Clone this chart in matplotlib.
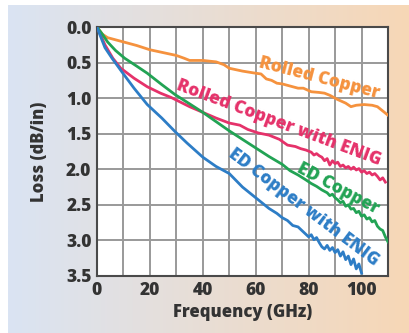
import numpy as np
import matplotlib
matplotlib.use("Agg")
import matplotlib.pyplot as plt

plt.rcParams["font.family"] = ["Open Sans", "DejaVu Sans"]
plt.rcParams["font.weight"] = "bold"

# Rolled Copper
rc_f = [0, 2, 4, 7, 10, 15, 20, 25, 30, 33, 35, 40, 45, 48, 50, 55, 60, 62, 64, 66, 68, 70,
        73, 76, 78, 81, 84, 86, 88, 91, 94, 96, 98, 101, 104, 106, 108, 110]
rc_l = [0, 0.10, 0.15, 0.18, 0.21, 0.26, 0.32, 0.36, 0.40, 0.44, 0.47, 0.47, 0.49, 0.53, 0.58,
        0.62, 0.65, 0.66, 0.73, 0.75, 0.79, 0.80, 0.83, 0.86, 0.86, 0.91, 0.92, 0.93, 0.96,
        1.02, 1.07, 1.12, 1.10, 1.09, 1.10, 1.12, 1.18, 1.24]

# Rolled Copper with ENIG
rce_f = [0, 1, 3, 6, 9, 14, 19, 24, 28, 35, 40, 45, 50, 54, 57, 61, 65, 69, 72, 75, 77, 79,
         81, 82, 83, 84, 85, 86, 87, 88, 89, 90, 91, 92, 93, 94, 95, 96, 97, 98, 99, 100,
         101, 102, 103, 104, 105, 106, 107, 108, 109]
rce_l = [0, 0.08, 0.25, 0.44, 0.58, 0.72, 0.84, 0.93, 0.99, 1.12, 1.20, 1.28, 1.35, 1.38,
         1.44, 1.49, 1.52, 1.58, 1.66, 1.68, 1.71, 1.73, 1.76, 1.80, 1.78, 1.81, 1.83, 1.88,
         1.85, 1.94, 1.88, 1.92, 1.90, 1.96, 1.94, 1.98, 1.96, 2.00, 1.97, 2.01, 1.99, 2.04,
         2.02, 2.06, 2.04, 2.08, 2.06, 2.10, 2.15, 2.12, 2.18]

# ED Copper
ed_f = [0, 2, 4, 7, 10.5, 15, 19, 24.5, 29.5, 35, 40, 45, 50, 55, 60, 65, 70, 73, 76, 79,
        81, 83, 85, 87, 88, 89, 90, 91, 92, 93, 94, 95, 96, 97, 98, 99, 100, 101, 102, 103,
        104, 105, 106, 107, 108, 109, 110]
ed_l = [0, 0.10, 0.21, 0.33, 0.44, 0.55, 0.65, 0.81, 0.95, 1.08, 1.20, 1.33, 1.46, 1.58,
        1.70, 1.82, 1.93, 2.02, 2.08, 2.15, 2.20, 2.24, 2.29, 2.33, 2.37, 2.35, 2.40, 2.43,
        2.47, 2.45, 2.52, 2.50, 2.56, 2.55, 2.61, 2.59, 2.66, 2.64, 2.70, 2.68, 2.74, 2.72,
        2.80, 2.84, 2.86, 2.95, 3.02]

# ED Copper with ENIG
ede_f = [0, 1, 3, 5.7, 9.4, 14, 19, 24.5, 29.5, 34, 40, 45, 50, 55, 60, 65, 68, 70, 72, 74,
         76, 78, 80, 81, 82, 83, 84, 85, 86, 87, 88, 89, 90, 91, 92, 93, 94, 95, 96, 97, 98,
         99, 100]
ede_l = [0, 0.10, 0.29, 0.44, 0.63, 0.86, 1.09, 1.28, 1.47, 1.63, 1.83, 1.96, 2.06, 2.25,
         2.40, 2.55, 2.62, 2.68, 2.72, 2.79, 2.81, 2.88, 2.95, 2.92, 2.99, 2.96, 3.03, 3.09,
         3.12, 3.07, 3.14, 3.10, 3.17, 3.13, 3.22, 3.16, 3.27, 3.22, 3.34, 3.26, 3.40, 3.33,
         3.46]

series = [
    (rc_f, rc_l, "#f5923e"),
    (rce_f, rce_l, "#e5326a"),
    (ed_f, ed_l, "#22a354"),
    (ede_f, ede_l, "#2d7dc6"),
]

# label text, x, y, rotation, colour
labels = [
    ("Rolled Copper", 84, 0.72, -14.5, "#f5923e"),
    ("Rolled Copper with ENIG", 68.7, 1.35, -20.5, "#e5326a"),
    ("ED Copper", 91, 2.28, -28, "#22a354"),
    ("ED Copper with ENIG", 78, 2.53, -37, "#2d7dc6"),
]

W, H = 409, 333
fig = plt.figure(figsize=(W / 100, H / 100), dpi=100)
fig.patch.set_facecolor("white")

# gradient backdrop
bg = fig.add_axes([8 / W, 0, 1 - 8 / W, 1 - 5 / H])
left_c = np.array([218, 228, 243]) / 255
right_c = np.array([247, 215, 182]) / 255
t = np.linspace(0, 1, 256)[None, :, None]
grad = left_c * (1 - t) + right_c * t
bg.imshow(grad, aspect="auto", extent=[0, 1, 0, 1])
bg.set_axis_off()

ax = fig.add_axes([97 / W, (H - 276) / H, 291 / W, 249 / H])
ax.set_facecolor("white")

for f, l, c in series:
    ax.plot(f, l, color=c, lw=2.0, solid_joinstyle="round", zorder=3)

for txt, x, y, rot, c in labels:
    ax.text(x, y, txt, color=c, rotation=rot, fontsize=12.5, fontweight="heavy",
            ha="center", va="center", rotation_mode="anchor", zorder=4)

ax.set_xlim(0, 110)
ax.set_ylim(3.5, 0)
ax.set_xticks(np.arange(0, 111, 10), minor=True)
ax.set_xticks(np.arange(0, 101, 20))
ax.set_yticks(np.arange(0, 3.51, 0.5))
ax.set_yticklabels([f"{v:.1f}" for v in np.arange(0, 3.51, 0.5)])
ax.grid(True, which="both", color="#999999", lw=1.4, zorder=1)
ax.set_axisbelow(True)
ax.tick_params(which="both", length=0, labelsize=12.5, pad=4)
for lab in ax.get_xticklabels() + ax.get_yticklabels():
    lab.set_fontweight("heavy")
    lab.set_color("#333333")
for sp in ax.spines.values():
    sp.set_color("#4a4a4a")
    sp.set_linewidth(1.5)

ax.set_xlabel("Frequency (GHz)", fontsize=12, fontweight="heavy", color="#333333", labelpad=4)
ax.set_ylabel("Loss (dB/in)", fontsize=12, fontweight="heavy", color="#333333", labelpad=13)

fig.savefig("out.png", dpi=100)
